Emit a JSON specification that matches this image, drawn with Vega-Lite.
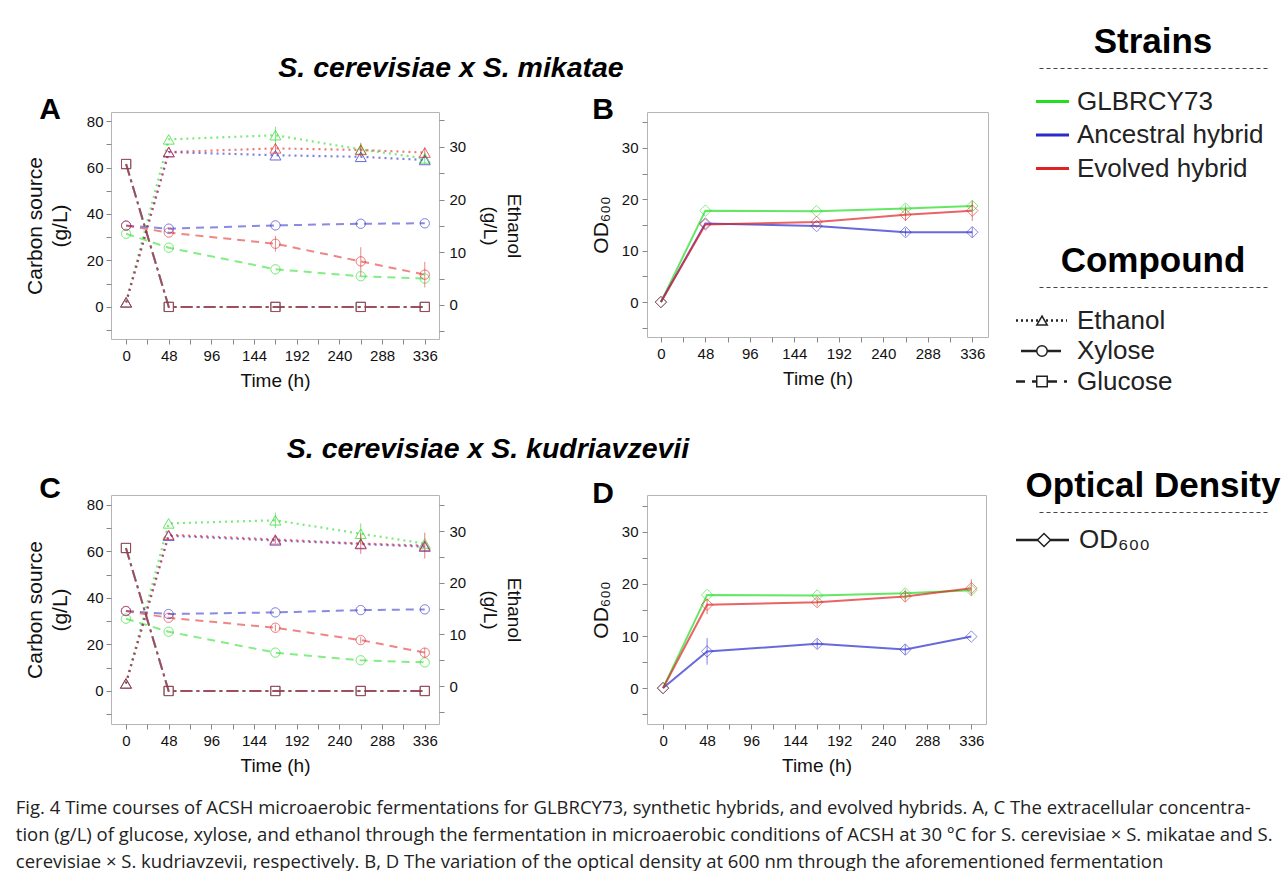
{
  "$schema": "https://vega.github.io/schema/vega-lite/v6.json",
  "padding": {"left": 15, "top": 25, "right": 0, "bottom": 0},
  "background": "white",
  "config": {
    "font": "Liberation Sans",
    "view": {"stroke": "#b5b5b5", "strokeWidth": 1},
    "axis": {"grid": false, "domain": false, "tickColor": "#888888", "tickSize": 5, "labelFontSize": 15, "labelColor": "#111111", "labelFont": "Liberation Sans", "titleFont": "Liberation Sans", "titleFontSize": 19, "titleFontWeight": "normal", "titleColor": "#111111", "labelOverlap": false, "labelFlush": false, "labelPadding": 4},
    "title": {"font": "Liberation Sans", "color": "#000000"}
  },
  "datasets": {
    "conc": [
      {"panel": "A", "strain": "GLBRCY73", "compound": "Glucose", "t": 0, "v": 61.5},
      {"panel": "A", "strain": "GLBRCY73", "compound": "Glucose", "t": 48, "v": 0},
      {"panel": "A", "strain": "GLBRCY73", "compound": "Glucose", "t": 168, "v": 0},
      {"panel": "A", "strain": "GLBRCY73", "compound": "Glucose", "t": 264, "v": 0},
      {"panel": "A", "strain": "GLBRCY73", "compound": "Glucose", "t": 336, "v": 0},
      {"panel": "A", "strain": "Ancestral hybrid", "compound": "Glucose", "t": 0, "v": 61.5},
      {"panel": "A", "strain": "Ancestral hybrid", "compound": "Glucose", "t": 48, "v": 0},
      {"panel": "A", "strain": "Ancestral hybrid", "compound": "Glucose", "t": 168, "v": 0},
      {"panel": "A", "strain": "Ancestral hybrid", "compound": "Glucose", "t": 264, "v": 0},
      {"panel": "A", "strain": "Ancestral hybrid", "compound": "Glucose", "t": 336, "v": 0},
      {"panel": "A", "strain": "Evolved hybrid", "compound": "Glucose", "t": 0, "v": 61.5},
      {"panel": "A", "strain": "Evolved hybrid", "compound": "Glucose", "t": 48, "v": 0},
      {"panel": "A", "strain": "Evolved hybrid", "compound": "Glucose", "t": 168, "v": 0},
      {"panel": "A", "strain": "Evolved hybrid", "compound": "Glucose", "t": 264, "v": 0},
      {"panel": "A", "strain": "Evolved hybrid", "compound": "Glucose", "t": 336, "v": 0},
      {"panel": "A", "strain": "GLBRCY73", "compound": "Xylose", "t": 0, "v": 31.5},
      {"panel": "A", "strain": "GLBRCY73", "compound": "Xylose", "t": 48, "v": 25.5},
      {"panel": "A", "strain": "GLBRCY73", "compound": "Xylose", "t": 168, "v": 16.2},
      {"panel": "A", "strain": "GLBRCY73", "compound": "Xylose", "t": 264, "v": 13.2},
      {"panel": "A", "strain": "GLBRCY73", "compound": "Xylose", "t": 336, "v": 12.2},
      {"panel": "A", "strain": "Ancestral hybrid", "compound": "Xylose", "t": 0, "v": 35},
      {"panel": "A", "strain": "Ancestral hybrid", "compound": "Xylose", "t": 48, "v": 33.7},
      {"panel": "A", "strain": "Ancestral hybrid", "compound": "Xylose", "t": 168, "v": 35.1},
      {"panel": "A", "strain": "Ancestral hybrid", "compound": "Xylose", "t": 264, "v": 35.8},
      {"panel": "A", "strain": "Ancestral hybrid", "compound": "Xylose", "t": 336, "v": 36},
      {"panel": "A", "strain": "Evolved hybrid", "compound": "Xylose", "t": 0, "v": 35},
      {"panel": "A", "strain": "Evolved hybrid", "compound": "Xylose", "t": 48, "v": 32},
      {"panel": "A", "strain": "Evolved hybrid", "compound": "Xylose", "t": 168, "v": 27.2, "lo": 23.8, "hi": 30.6},
      {"panel": "A", "strain": "Evolved hybrid", "compound": "Xylose", "t": 264, "v": 19.6, "lo": 13.5, "hi": 25.7},
      {"panel": "A", "strain": "Evolved hybrid", "compound": "Xylose", "t": 336, "v": 13.9, "lo": 8.4, "hi": 19.4},
      {"panel": "A", "strain": "GLBRCY73", "compound": "Ethanol", "t": 0, "v": 0.5},
      {"panel": "A", "strain": "GLBRCY73", "compound": "Ethanol", "t": 48, "v": 31.4},
      {"panel": "A", "strain": "GLBRCY73", "compound": "Ethanol", "t": 168, "v": 32.2, "lo": 30.6, "hi": 33.8},
      {"panel": "A", "strain": "GLBRCY73", "compound": "Ethanol", "t": 264, "v": 29.5, "lo": 28.2, "hi": 30.8},
      {"panel": "A", "strain": "GLBRCY73", "compound": "Ethanol", "t": 336, "v": 27.8, "lo": 26.8, "hi": 28.8},
      {"panel": "A", "strain": "Ancestral hybrid", "compound": "Ethanol", "t": 0, "v": 0.5},
      {"panel": "A", "strain": "Ancestral hybrid", "compound": "Ethanol", "t": 48, "v": 29},
      {"panel": "A", "strain": "Ancestral hybrid", "compound": "Ethanol", "t": 168, "v": 28.4},
      {"panel": "A", "strain": "Ancestral hybrid", "compound": "Ethanol", "t": 264, "v": 28.1},
      {"panel": "A", "strain": "Ancestral hybrid", "compound": "Ethanol", "t": 336, "v": 27.5},
      {"panel": "A", "strain": "Evolved hybrid", "compound": "Ethanol", "t": 0, "v": 0.5},
      {"panel": "A", "strain": "Evolved hybrid", "compound": "Ethanol", "t": 48, "v": 29},
      {"panel": "A", "strain": "Evolved hybrid", "compound": "Ethanol", "t": 168, "v": 29.7, "lo": 28.7, "hi": 30.7},
      {"panel": "A", "strain": "Evolved hybrid", "compound": "Ethanol", "t": 264, "v": 29.4, "lo": 28.2, "hi": 30.6},
      {"panel": "A", "strain": "Evolved hybrid", "compound": "Ethanol", "t": 336, "v": 28.9, "lo": 27.9, "hi": 29.9},
      {"panel": "C", "strain": "GLBRCY73", "compound": "Glucose", "t": 0, "v": 61.5},
      {"panel": "C", "strain": "GLBRCY73", "compound": "Glucose", "t": 48, "v": 0},
      {"panel": "C", "strain": "GLBRCY73", "compound": "Glucose", "t": 168, "v": 0},
      {"panel": "C", "strain": "GLBRCY73", "compound": "Glucose", "t": 264, "v": 0},
      {"panel": "C", "strain": "GLBRCY73", "compound": "Glucose", "t": 336, "v": 0},
      {"panel": "C", "strain": "Ancestral hybrid", "compound": "Glucose", "t": 0, "v": 61.5},
      {"panel": "C", "strain": "Ancestral hybrid", "compound": "Glucose", "t": 48, "v": 0},
      {"panel": "C", "strain": "Ancestral hybrid", "compound": "Glucose", "t": 168, "v": 0},
      {"panel": "C", "strain": "Ancestral hybrid", "compound": "Glucose", "t": 264, "v": 0},
      {"panel": "C", "strain": "Ancestral hybrid", "compound": "Glucose", "t": 336, "v": 0},
      {"panel": "C", "strain": "Evolved hybrid", "compound": "Glucose", "t": 0, "v": 61.5},
      {"panel": "C", "strain": "Evolved hybrid", "compound": "Glucose", "t": 48, "v": 0},
      {"panel": "C", "strain": "Evolved hybrid", "compound": "Glucose", "t": 168, "v": 0},
      {"panel": "C", "strain": "Evolved hybrid", "compound": "Glucose", "t": 264, "v": 0},
      {"panel": "C", "strain": "Evolved hybrid", "compound": "Glucose", "t": 336, "v": 0},
      {"panel": "C", "strain": "GLBRCY73", "compound": "Xylose", "t": 0, "v": 31.1},
      {"panel": "C", "strain": "GLBRCY73", "compound": "Xylose", "t": 48, "v": 25.5},
      {"panel": "C", "strain": "GLBRCY73", "compound": "Xylose", "t": 168, "v": 16.5},
      {"panel": "C", "strain": "GLBRCY73", "compound": "Xylose", "t": 264, "v": 13.2},
      {"panel": "C", "strain": "GLBRCY73", "compound": "Xylose", "t": 336, "v": 12.3},
      {"panel": "C", "strain": "Ancestral hybrid", "compound": "Xylose", "t": 0, "v": 34.4},
      {"panel": "C", "strain": "Ancestral hybrid", "compound": "Xylose", "t": 48, "v": 33.1},
      {"panel": "C", "strain": "Ancestral hybrid", "compound": "Xylose", "t": 168, "v": 33.8},
      {"panel": "C", "strain": "Ancestral hybrid", "compound": "Xylose", "t": 264, "v": 34.8},
      {"panel": "C", "strain": "Ancestral hybrid", "compound": "Xylose", "t": 336, "v": 35.1},
      {"panel": "C", "strain": "Evolved hybrid", "compound": "Xylose", "t": 0, "v": 34.4},
      {"panel": "C", "strain": "Evolved hybrid", "compound": "Xylose", "t": 48, "v": 31.5},
      {"panel": "C", "strain": "Evolved hybrid", "compound": "Xylose", "t": 168, "v": 27.2, "lo": 25.8, "hi": 28.6},
      {"panel": "C", "strain": "Evolved hybrid", "compound": "Xylose", "t": 264, "v": 21.9, "lo": 20.5, "hi": 23.3},
      {"panel": "C", "strain": "Evolved hybrid", "compound": "Xylose", "t": 336, "v": 16.5, "lo": 14.5, "hi": 18.5},
      {"panel": "C", "strain": "GLBRCY73", "compound": "Ethanol", "t": 0, "v": 0.5},
      {"panel": "C", "strain": "GLBRCY73", "compound": "Ethanol", "t": 48, "v": 31.5},
      {"panel": "C", "strain": "GLBRCY73", "compound": "Ethanol", "t": 168, "v": 32.1, "lo": 30.6, "hi": 33.6},
      {"panel": "C", "strain": "GLBRCY73", "compound": "Ethanol", "t": 264, "v": 29.5, "lo": 27.5, "hi": 31.5},
      {"panel": "C", "strain": "GLBRCY73", "compound": "Ethanol", "t": 336, "v": 27.6},
      {"panel": "C", "strain": "Ancestral hybrid", "compound": "Ethanol", "t": 0, "v": 0.5},
      {"panel": "C", "strain": "Ancestral hybrid", "compound": "Ethanol", "t": 48, "v": 29.1},
      {"panel": "C", "strain": "Ancestral hybrid", "compound": "Ethanol", "t": 168, "v": 28.2},
      {"panel": "C", "strain": "Ancestral hybrid", "compound": "Ethanol", "t": 264, "v": 27.5},
      {"panel": "C", "strain": "Ancestral hybrid", "compound": "Ethanol", "t": 336, "v": 27.0},
      {"panel": "C", "strain": "Evolved hybrid", "compound": "Ethanol", "t": 0, "v": 0.5},
      {"panel": "C", "strain": "Evolved hybrid", "compound": "Ethanol", "t": 48, "v": 29.3},
      {"panel": "C", "strain": "Evolved hybrid", "compound": "Ethanol", "t": 168, "v": 28.4, "lo": 27.6, "hi": 29.2},
      {"panel": "C", "strain": "Evolved hybrid", "compound": "Ethanol", "t": 264, "v": 27.6, "lo": 25.6, "hi": 29.6},
      {"panel": "C", "strain": "Evolved hybrid", "compound": "Ethanol", "t": 336, "v": 27.2, "lo": 24.7, "hi": 29.7}
    ],
    "od": [
      {"panel": "B", "strain": "GLBRCY73", "t": 0, "v": 0},
      {"panel": "B", "strain": "GLBRCY73", "t": 48, "v": 17.8},
      {"panel": "B", "strain": "GLBRCY73", "t": 168, "v": 17.7},
      {"panel": "B", "strain": "GLBRCY73", "t": 264, "v": 18.2, "lo": 17.4, "hi": 19.0},
      {"panel": "B", "strain": "GLBRCY73", "t": 336, "v": 18.7, "lo": 17.8, "hi": 19.6},
      {"panel": "B", "strain": "Ancestral hybrid", "t": 0, "v": 0},
      {"panel": "B", "strain": "Ancestral hybrid", "t": 48, "v": 15.3},
      {"panel": "B", "strain": "Ancestral hybrid", "t": 168, "v": 14.8},
      {"panel": "B", "strain": "Ancestral hybrid", "t": 264, "v": 13.6, "lo": 12.8, "hi": 14.4},
      {"panel": "B", "strain": "Ancestral hybrid", "t": 336, "v": 13.6, "lo": 12.6, "hi": 14.6},
      {"panel": "B", "strain": "Evolved hybrid", "t": 0, "v": 0},
      {"panel": "B", "strain": "Evolved hybrid", "t": 48, "v": 15.1},
      {"panel": "B", "strain": "Evolved hybrid", "t": 168, "v": 15.6},
      {"panel": "B", "strain": "Evolved hybrid", "t": 264, "v": 17.0, "lo": 15.8, "hi": 18.2},
      {"panel": "B", "strain": "Evolved hybrid", "t": 336, "v": 17.8, "lo": 15.8, "hi": 19.8},
      {"panel": "D", "strain": "GLBRCY73", "t": 0, "v": 0},
      {"panel": "D", "strain": "GLBRCY73", "t": 48, "v": 17.9},
      {"panel": "D", "strain": "GLBRCY73", "t": 168, "v": 17.8},
      {"panel": "D", "strain": "GLBRCY73", "t": 264, "v": 18.2, "lo": 17.4, "hi": 19.0},
      {"panel": "D", "strain": "GLBRCY73", "t": 336, "v": 18.8},
      {"panel": "D", "strain": "Ancestral hybrid", "t": 0, "v": 0},
      {"panel": "D", "strain": "Ancestral hybrid", "t": 48, "v": 7.05, "lo": 4.5, "hi": 9.6},
      {"panel": "D", "strain": "Ancestral hybrid", "t": 168, "v": 8.5, "lo": 7.6, "hi": 9.4},
      {"panel": "D", "strain": "Ancestral hybrid", "t": 264, "v": 7.4, "lo": 6.4, "hi": 8.4},
      {"panel": "D", "strain": "Ancestral hybrid", "t": 336, "v": 9.9},
      {"panel": "D", "strain": "Evolved hybrid", "t": 0, "v": 0},
      {"panel": "D", "strain": "Evolved hybrid", "t": 48, "v": 16.0, "lo": 14.2, "hi": 17.2},
      {"panel": "D", "strain": "Evolved hybrid", "t": 168, "v": 16.5, "lo": 15.7, "hi": 17.3},
      {"panel": "D", "strain": "Evolved hybrid", "t": 264, "v": 17.6, "lo": 16.6, "hi": 18.6},
      {"panel": "D", "strain": "Evolved hybrid", "t": 336, "v": 19.2, "lo": 17.7, "hi": 20.9}
    ]
  },
  "title": {
    "text": [
      "Fig. 4  Time courses of ACSH microaerobic fermentations for GLBRCY73, synthetic hybrids, and evolved hybrids. A, C The extracellular concentra-",
      "tion (g/L) of glucose, xylose, and ethanol through the fermentation in microaerobic conditions of ACSH at 30 °C for S. cerevisiae × S. mikatae and S.",
      "cerevisiae × S. kudriavzevii, respectively. B, D The variation of the optical density at 600 nm through the aforementioned fermentation"
    ],
    "orient": "bottom", "anchor": "start", "frame": "bounds", "dx": -8, "font": "Open Sans", "fontSize": 18.5, "fontWeight": "normal", "lineHeight": 27, "offset": 23, "color": "#222222"
  },
  "spacing": 25,
  "hconcat": [
    {
      "spacing": 44,
      "vconcat": [
        {
          "spacing": 8,
          "vconcat": [
            {
              "width": 680, "height": 18,
              "view": {"stroke": null},
              "data": {"values": [{"heading": "S. cerevisiae x S. mikatae"}]},
              "mark": {"type": "text", "font": "Liberation Sans", "fontSize": 28.5, "fontStyle": "italic", "fontWeight": "bold", "baseline": "alphabetic", "align": "center", "color": "#000000"},
              "encoding": {"text": {"field": "heading"}}
            },
            {
              "spacing": 65,
              "hconcat": [
                {
                  "width": 328, "height": 227,
                  "title": {"text": "A", "anchor": "start", "frame": "bounds", "fontSize": 30, "fontWeight": "bold", "offset": 0, "dx": 15, "dy": 13},
                  "data": {"name": "conc"},
                  "transform": [{"filter": "datum.panel == 'A'"}],
                  "encoding": {
                    "x": {"field": "t", "type": "quantitative", "scale": {"domain": [-17, 352], "nice": false, "zero": false},
                      "axis": {"values": [0, 24, 48, 72, 96, 120, 144, 168, 192, 216, 240, 264, 288, 312, 336], "labelExpr": "datum.value % 48 == 0 ? datum.label : ''", "title": "Time (h)", "titlePadding": 8}},
                    "color": {"field": "strain", "type": "nominal", "scale": {"domain": ["GLBRCY73", "Ancestral hybrid", "Evolved hybrid"], "range": ["#22dd22", "#2a2acc", "#e02222"]}, "legend": null}
                  },
                  "layer": [
                    {
                      "transform": [{"filter": "datum.compound != 'Ethanol'"}],
                      "encoding": {
                        "y": {"field": "v", "type": "quantitative", "scale": {"domain": [-13.8, 83.9], "nice": false, "zero": false},
                          "axis": {"values": [-10, 0, 10, 20, 30, 40, 50, 60, 70, 80], "labelExpr": "datum.value >= 0 && datum.value % 20 == 0 ? datum.label : ''", "title": ["Carbon source", "(g/L)"], "titleFontSize": 21, "titlePadding": 16, "titleLineHeight": 25, "labelPadding": 3}},
                        "strokeDash": {"field": "compound", "type": "nominal", "scale": {"domain": ["Ethanol", "Xylose", "Glucose"], "range": [[2, 4], [8, 6], [12, 4, 3, 4]]}, "legend": null}
                      },
                      "layer": [
                        {"mark": {"type": "line", "strokeWidth": 2, "opacity": 0.55}},
                        {"transform": [{"filter": "datum.lo != null"}], "mark": {"type": "rule", "strokeWidth": 1, "opacity": 0.6}, "encoding": {"y": {"field": "lo", "type": "quantitative"}, "y2": {"field": "hi"}, "strokeDash": {"value": [1, 0]}}},
                        {"mark": {"type": "point", "filled": false, "size": 85, "strokeWidth": 1, "opacity": 0.7}, "encoding": {"shape": {"field": "compound", "type": "nominal", "scale": {"domain": ["Ethanol", "Xylose", "Glucose"], "range": ["triangle-up", "circle", "square"]}, "legend": null}, "strokeDash": {"value": [1, 0]}}}
                      ]
                    },
                    {
                      "transform": [{"filter": "datum.compound == 'Ethanol'"}],
                      "encoding": {
                        "y": {"field": "v", "type": "quantitative", "scale": {"domain": [-6.45, 36.6], "nice": false, "zero": false},
                          "axis": {"orient": "right", "values": [-5, 0, 5, 10, 15, 20, 25, 30, 35], "labelExpr": "datum.value >= 0 && datum.value <= 30 && datum.value % 10 == 0 ? datum.label : ''", "title": ["Ethanol", "(g/L)"], "titlePadding": 14, "titleLineHeight": 24, "labelPadding": 5}}
                      },
                      "layer": [
                        {"mark": {"type": "line", "strokeWidth": 2.2, "opacity": 0.6, "strokeDash": [2, 4]}},
                        {"transform": [{"filter": "datum.lo != null"}], "mark": {"type": "rule", "strokeWidth": 1, "opacity": 0.6}, "encoding": {"y": {"field": "lo", "type": "quantitative"}, "y2": {"field": "hi"}}},
                        {"mark": {"type": "point", "filled": false, "size": 120, "strokeWidth": 1, "opacity": 0.7, "shape": "triangle-up"}}
                      ]
                    }
                  ],
                  "resolve": {"scale": {"y": "independent"}}
                },
                {
                  "width": 341, "height": 225,
                  "title": {"text": "B", "anchor": "start", "frame": "bounds", "fontSize": 30, "fontWeight": "bold", "offset": 0, "dx": 2, "dy": 13},
                  "data": {"name": "od"},
                  "transform": [{"filter": "datum.panel == 'B'"}],
                  "encoding": {
                    "x": {"field": "t", "type": "quantitative", "scale": {"domain": [-15, 353], "nice": false, "zero": false},
                      "axis": {"values": [0, 24, 48, 72, 96, 120, 144, 168, 192, 216, 240, 264, 288, 312, 336], "labelExpr": "datum.value % 48 == 0 ? datum.label : ''", "title": "Time (h)", "titlePadding": 8}},
                    "y": {"field": "v", "type": "quantitative", "scale": {"domain": [-6.8, 37], "nice": false, "zero": false},
                      "axis": {"values": [-5, 0, 5, 10, 15, 20, 25, 30, 35], "labelExpr": "datum.value >= 0 && datum.value <= 30 && datum.value % 10 == 0 ? datum.label : ''", "title": "OD₆₀₀", "titlePadding": 10, "titleFontSize": 21}},
                    "color": {"field": "strain", "type": "nominal", "scale": {"domain": ["GLBRCY73", "Ancestral hybrid", "Evolved hybrid"], "range": ["#22dd22", "#2a2acc", "#e02222"]}, "legend": null}
                  },
                  "layer": [
                    {"mark": {"type": "line", "strokeWidth": 2, "opacity": 0.7}},
                    {"transform": [{"filter": "datum.lo != null"}], "mark": {"type": "rule", "strokeWidth": 1, "opacity": 0.6}, "encoding": {"y": {"field": "lo", "type": "quantitative"}, "y2": {"field": "hi"}}},
                    {"mark": {"type": "point", "filled": false, "size": 130, "strokeWidth": 1, "opacity": 0.55, "shape": "diamond"}}
                  ]
                }
              ]
            }
          ]
        },
        {
          "spacing": 9,
          "vconcat": [
            {
              "width": 754, "height": 10,
              "view": {"stroke": null},
              "data": {"values": [{"heading": "S. cerevisiae x S. kudriavzevii"}]},
              "mark": {"type": "text", "font": "Liberation Sans", "fontSize": 28.5, "fontStyle": "italic", "fontWeight": "bold", "baseline": "alphabetic", "align": "center", "color": "#000000"},
              "encoding": {"text": {"field": "heading"}}
            },
            {
              "spacing": 65,
              "hconcat": [
                {
                  "width": 328, "height": 229,
                  "title": {"text": "C", "anchor": "start", "frame": "bounds", "fontSize": 30, "fontWeight": "bold", "offset": 0, "dx": 15, "dy": 9},
                  "data": {"name": "conc"},
                  "transform": [{"filter": "datum.panel == 'C'"}],
                  "encoding": {
                    "x": {"field": "t", "type": "quantitative", "scale": {"domain": [-16.8, 352], "nice": false, "zero": false},
                      "axis": {"values": [0, 24, 48, 72, 96, 120, 144, 168, 192, 216, 240, 264, 288, 312, 336], "labelExpr": "datum.value % 48 == 0 ? datum.label : ''", "title": "Time (h)", "titlePadding": 8}},
                    "color": {"field": "strain", "type": "nominal", "scale": {"domain": ["GLBRCY73", "Ancestral hybrid", "Evolved hybrid"], "range": ["#22dd22", "#2a2acc", "#e02222"]}, "legend": null}
                  },
                  "layer": [
                    {
                      "transform": [{"filter": "datum.compound != 'Ethanol'"}],
                      "encoding": {
                        "y": {"field": "v", "type": "quantitative", "scale": {"domain": [-14.2, 84.3], "nice": false, "zero": false},
                          "axis": {"values": [-10, 0, 10, 20, 30, 40, 50, 60, 70, 80], "labelExpr": "datum.value >= 0 && datum.value % 20 == 0 ? datum.label : ''", "title": ["Carbon source", "(g/L)"], "titleFontSize": 21, "titlePadding": 16, "titleLineHeight": 25, "labelPadding": 3}},
                        "strokeDash": {"field": "compound", "type": "nominal", "scale": {"domain": ["Ethanol", "Xylose", "Glucose"], "range": [[2, 4], [8, 6], [12, 4, 3, 4]]}, "legend": null}
                      },
                      "layer": [
                        {"mark": {"type": "line", "strokeWidth": 2, "opacity": 0.55}},
                        {"transform": [{"filter": "datum.lo != null"}], "mark": {"type": "rule", "strokeWidth": 1, "opacity": 0.6}, "encoding": {"y": {"field": "lo", "type": "quantitative"}, "y2": {"field": "hi"}, "strokeDash": {"value": [1, 0]}}},
                        {"mark": {"type": "point", "filled": false, "size": 85, "strokeWidth": 1, "opacity": 0.7}, "encoding": {"shape": {"field": "compound", "type": "nominal", "scale": {"domain": ["Ethanol", "Xylose", "Glucose"], "range": ["triangle-up", "circle", "square"]}, "legend": null}, "strokeDash": {"value": [1, 0]}}}
                      ]
                    },
                    {
                      "transform": [{"filter": "datum.compound == 'Ethanol'"}],
                      "encoding": {
                        "y": {"field": "v", "type": "quantitative", "scale": {"domain": [-7.35, 37], "nice": false, "zero": false},
                          "axis": {"orient": "right", "values": [-5, 0, 5, 10, 15, 20, 25, 30, 35], "labelExpr": "datum.value >= 0 && datum.value <= 30 && datum.value % 10 == 0 ? datum.label : ''", "title": ["Ethanol", "(g/L)"], "titlePadding": 14, "titleLineHeight": 24, "labelPadding": 5}}
                      },
                      "layer": [
                        {"mark": {"type": "line", "strokeWidth": 2.2, "opacity": 0.6, "strokeDash": [2, 4]}},
                        {"transform": [{"filter": "datum.lo != null"}], "mark": {"type": "rule", "strokeWidth": 1, "opacity": 0.6}, "encoding": {"y": {"field": "lo", "type": "quantitative"}, "y2": {"field": "hi"}}},
                        {"mark": {"type": "point", "filled": false, "size": 120, "strokeWidth": 1, "opacity": 0.7, "shape": "triangle-up"}}
                      ]
                    }
                  ],
                  "resolve": {"scale": {"y": "independent"}}
                },
                {
                  "width": 339, "height": 229,
                  "title": {"text": "D", "anchor": "start", "frame": "bounds", "fontSize": 30, "fontWeight": "bold", "offset": 0, "dx": 2, "dy": 14},
                  "data": {"name": "od"},
                  "transform": [{"filter": "datum.panel == 'D'"}],
                  "encoding": {
                    "x": {"field": "t", "type": "quantitative", "scale": {"domain": [-17.5, 352], "nice": false, "zero": false},
                      "axis": {"values": [0, 24, 48, 72, 96, 120, 144, 168, 192, 216, 240, 264, 288, 312, 336], "labelExpr": "datum.value % 48 == 0 ? datum.label : ''", "title": "Time (h)", "titlePadding": 8}},
                    "y": {"field": "v", "type": "quantitative", "scale": {"domain": [-6.9, 37.1], "nice": false, "zero": false},
                      "axis": {"values": [-5, 0, 5, 10, 15, 20, 25, 30, 35], "labelExpr": "datum.value >= 0 && datum.value <= 30 && datum.value % 10 == 0 ? datum.label : ''", "title": "OD₆₀₀", "titlePadding": 10, "titleFontSize": 21}},
                    "color": {"field": "strain", "type": "nominal", "scale": {"domain": ["GLBRCY73", "Ancestral hybrid", "Evolved hybrid"], "range": ["#22dd22", "#2a2acc", "#e02222"]}, "legend": null}
                  },
                  "layer": [
                    {"mark": {"type": "line", "strokeWidth": 2, "opacity": 0.7}},
                    {"transform": [{"filter": "datum.lo != null"}], "mark": {"type": "rule", "strokeWidth": 1, "opacity": 0.6}, "encoding": {"y": {"field": "lo", "type": "quantitative"}, "y2": {"field": "hi"}}},
                    {"mark": {"type": "point", "filled": false, "size": 130, "strokeWidth": 1, "opacity": 0.55, "shape": "diamond"}}
                  ]
                }
              ]
            }
          ]
        }
      ]
    },
    {
      "spacing": 60,
      "vconcat": [
        {
          "spacing": 42,
          "vconcat": [
            {
              "width": 228, "height": 134,
              "view": {"stroke": null},
              "title": {"text": "Strains", "fontSize": 35, "fontWeight": "bold", "anchor": "middle", "offset": 8},
              "data": {"values": [{"strain": "GLBRCY73"}, {"strain": "Ancestral hybrid"}, {"strain": "Evolved hybrid"}]},
              "encoding": {"y": {"field": "strain", "type": "nominal", "sort": null, "scale": {"type": "point", "padding": 1}, "axis": null}},
              "layer": [
                {"mark": {"type": "rule", "strokeWidth": 3},
                 "encoding": {
                   "x": {"datum": -3, "type": "quantitative", "scale": {"domain": [0, 228], "nice": false, "zero": false}, "axis": {"orient": "top", "domain": true, "domainDash": [4, 3], "domainColor": "#444444", "domainWidth": 1, "ticks": false, "labels": false, "title": null, "grid": false}},
                   "x2": {"datum": 30},
                   "color": {"field": "strain", "type": "nominal", "legend": null}}},
                {"mark": {"type": "text", "align": "left", "baseline": "middle", "fontSize": 26, "color": "#222222"},
                 "encoding": {"x": {"datum": 38, "type": "quantitative"}, "text": {"field": "strain"}}}
              ]
            },
            {
              "width": 228, "height": 122,
              "view": {"stroke": null},
              "title": {"text": "Compound", "fontSize": 35, "fontWeight": "bold", "anchor": "middle", "offset": 8},
              "data": {"values": [{"compound": "Ethanol"}, {"compound": "Xylose"}, {"compound": "Glucose"}]},
              "encoding": {"y": {"field": "compound", "type": "nominal", "sort": null, "scale": {"type": "point", "padding": 1, "align": 0.55}, "axis": null}},
              "layer": [
                {"transform": [{"filter": "datum.compound == 'Ethanol'"}],
                 "mark": {"type": "rule", "strokeWidth": 2.5, "color": "#222222", "strokeDash": [2, 3]},
                 "encoding": {
                   "x": {"datum": -23, "type": "quantitative", "scale": {"domain": [0, 228], "nice": false, "zero": false}, "axis": {"orient": "top", "domain": true, "domainDash": [4, 3], "domainColor": "#444444", "domainWidth": 1, "ticks": false, "labels": false, "title": null, "grid": false}},
                   "x2": {"datum": 28}}},
                {"transform": [{"filter": "datum.compound == 'Xylose'"}],
                 "mark": {"type": "rule", "strokeWidth": 2.5, "color": "#222222"},
                 "encoding": {"x": {"datum": -18, "type": "quantitative"}, "x2": {"datum": 22}}},
                {"transform": [{"filter": "datum.compound == 'Glucose'"}],
                 "mark": {"type": "rule", "strokeWidth": 2.5, "color": "#222222", "strokeDash": [9, 7]},
                 "encoding": {"x": {"datum": -23, "type": "quantitative"}, "x2": {"datum": 28}}},
                {"mark": {"type": "point", "filled": true, "fill": "white", "stroke": "#222222", "strokeWidth": 1.5, "size": 110, "opacity": 1},
                 "encoding": {"x": {"datum": 3, "type": "quantitative"},
                   "shape": {"field": "compound", "type": "nominal", "scale": {"domain": ["Ethanol", "Xylose", "Glucose"], "range": ["triangle-up", "circle", "square"]}, "legend": null}}},
                {"mark": {"type": "text", "align": "left", "baseline": "middle", "fontSize": 26, "color": "#222222"},
                 "encoding": {"x": {"datum": 38, "type": "quantitative"}, "text": {"field": "compound"}}}
              ]
            }
          ]
        },
        {
          "width": 228, "height": 56,
          "view": {"stroke": null},
          "title": {"text": "Optical Density", "fontSize": 35, "fontWeight": "bold", "anchor": "middle", "offset": 8},
          "data": {"values": [{"measure": "OD₆₀₀"}]},
          "encoding": {"y": {"field": "measure", "type": "nominal", "scale": {"type": "point", "padding": 1}, "axis": null}},
          "layer": [
            {"mark": {"type": "rule", "strokeWidth": 2.5, "color": "#222222"},
             "encoding": {
               "x": {"datum": -23, "type": "quantitative", "scale": {"domain": [0, 228], "nice": false, "zero": false}, "axis": {"orient": "top", "domain": true, "domainDash": [4, 3], "domainColor": "#444444", "domainWidth": 1, "ticks": false, "labels": false, "title": null, "grid": false}},
               "x2": {"datum": 30}}},
            {"mark": {"type": "point", "filled": true, "fill": "white", "stroke": "#222222", "strokeWidth": 1.5, "size": 170, "shape": "diamond", "opacity": 1},
             "encoding": {"x": {"datum": 5, "type": "quantitative"}}},
            {"mark": {"type": "text", "align": "left", "baseline": "middle", "fontSize": 26, "color": "#222222"},
             "encoding": {"x": {"datum": 40, "type": "quantitative"}, "text": {"field": "measure"}}}
          ]
        }
      ]
    }
  ]
}
